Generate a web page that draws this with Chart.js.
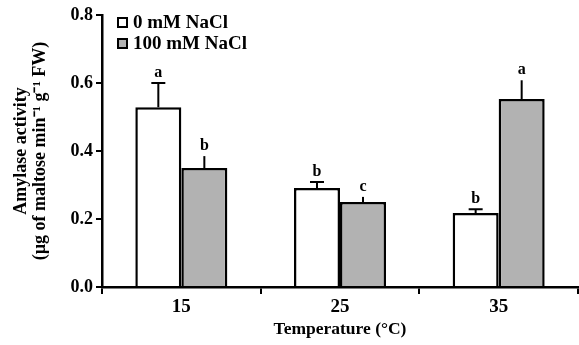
<!DOCTYPE html>
<html>
<head>
<meta charset="utf-8">
<script src="https://cdn.jsdelivr.net/npm/chart.js@4/dist/chart.umd.min.js"></script>
<style>
  html, body { margin: 0; padding: 0; background: #fff; }
  #wrap { width: 579px; height: 345px; }
</style>
</head>
<body>
<div id="wrap"><canvas id="amylaseChart"></canvas></div>
<script>
const temperatures = ['15', '25', '35'];
const control = [0.529, 0.291, 0.218];
const controlErr = [0.071, 0.018, 0.011];
const controlLetters = ['a', 'b', 'b'];
const salt = [0.350, 0.250, 0.553];
const saltErr = [0.035, 0.015, 0.055];
const saltLetters = ['b', 'c', 'a'];
const yTicks = [0.0, 0.2, 0.4, 0.6, 0.8];

const serif = '"Liberation Serif", "Times New Roman", serif';

// upper error bars + significance letters
const errorBars = {
  id: 'errorBars',
  afterDatasetsDraw(chart) {
    const ctx = chart.ctx;
    const y = chart.scales.y;
    ctx.save();
    ctx.strokeStyle = '#000';
    ctx.lineWidth = 2;
    ctx.fillStyle = '#000';
    ctx.font = 'bold 16px ' + serif;
    ctx.textAlign = 'center';
    ctx.textBaseline = 'alphabetic';
    chart.data.datasets.forEach((ds, di) => {
      chart.getDatasetMeta(di).data.forEach((bar, i) => {
        const top = y.getPixelForValue(ds.data[i]);
        const hi = y.getPixelForValue(ds.data[i] + ds.errors[i]);
        ctx.beginPath();
        ctx.moveTo(bar.x, top);
        ctx.lineTo(bar.x, hi);
        if (ds.caps) {
          ctx.moveTo(bar.x - 7, hi);
          ctx.lineTo(bar.x + 7, hi);
        }
        ctx.stroke();
        ctx.fillText(ds.letters[i], bar.x, hi - 6);
      });
    });
    ctx.restore();
  }
};

// legend drawn inside the plot, top-left
const boxLegend = {
  id: 'boxLegend',
  afterDraw(chart) {
    const ctx = chart.ctx;
    ctx.save();
    ctx.font = 'bold 19px ' + serif;
    ctx.textBaseline = 'middle';
    ctx.textAlign = 'left';
    chart.data.datasets.forEach((ds, di) => {
      const cy = 22.5 + di * 21;
      ctx.fillStyle = ds.backgroundColor;
      ctx.fillRect(118, cy - 4.5, 9, 9);
      ctx.strokeStyle = '#000';
      ctx.lineWidth = 2;
      ctx.strokeRect(118, cy - 4.5, 9, 9);
      ctx.fillStyle = '#000';
      ctx.fillText(ds.label, 133, cy + 1);
    });
    ctx.restore();
  }
};

new Chart(document.getElementById('amylaseChart'), {
  type: 'bar',
  data: {
    labels: temperatures,
    datasets: [
      {
        label: '0 mM NaCl',
        data: control,
        errors: controlErr,
        letters: controlLetters,
        caps: true,
        backgroundColor: '#ffffff',
        borderColor: '#000',
        borderWidth: 2.5,
        borderSkipped: 'bottom'
      },
      {
        label: '100 mM NaCl',
        data: salt,
        errors: saltErr,
        letters: saltLetters,
        caps: false,
        backgroundColor: '#b2b2b2',
        borderColor: '#000',
        borderWidth: 2.5,
        borderSkipped: 'bottom'
      }
    ]
  },
  options: {
    responsive: true,
    maintainAspectRatio: false,
    animation: false,
    layout: { padding: { top: 15, right: 1, left: 0, bottom: 0 } },
    categoryPercentage: 0.58,
    barPercentage: 1.0,
    plugins: {
      legend: { display: false },
      tooltip: { enabled: false }
    },
    scales: {
      x: {
        grid: { display: true, drawOnChartArea: false, offset: true, color: '#000', lineWidth: 2, tickLength: 7 },
        border: { display: true, color: '#000', width: 2.5 },
        ticks: { color: '#000', font: { family: serif, size: 19, weight: 'bold' }, padding: 2 },
        title: {
          display: true,
          text: 'Temperature (°C)',
          color: '#000',
          font: { family: serif, size: 17.5, weight: 'bold', lineHeight: 1.2 },
          padding: { top: 0, bottom: 5.5 }
        },
        afterFit(scale) { scale.height = 58; }
      },
      y: {
        min: 0,
        max: 0.8,
        afterBuildTicks(scale) { scale.ticks = yTicks.map(v => ({ value: v })); },
        grid: { display: true, drawOnChartArea: false, color: '#000', lineWidth: 2, tickLength: 6 },
        border: { display: true, color: '#000', width: 2.5 },
        ticks: {
          color: '#000',
          font: { family: serif, size: 18, weight: 'bold' },
          padding: 3,
          callback: v => Number(v).toFixed(1)
        },
        title: {
          display: true,
          text: ['Amylase activity', '(µg of maltose min⁻¹ g⁻¹ FW)'],
          color: '#000',
          font: { family: serif, size: 18, weight: 'bold', lineHeight: 1.1 },
          padding: { top: 11, bottom: 0 }
        },
        afterFit(scale) { scale.width = 102; }
      }
    }
  },
  plugins: [errorBars, boxLegend]
});
</script>
</body>
</html>
